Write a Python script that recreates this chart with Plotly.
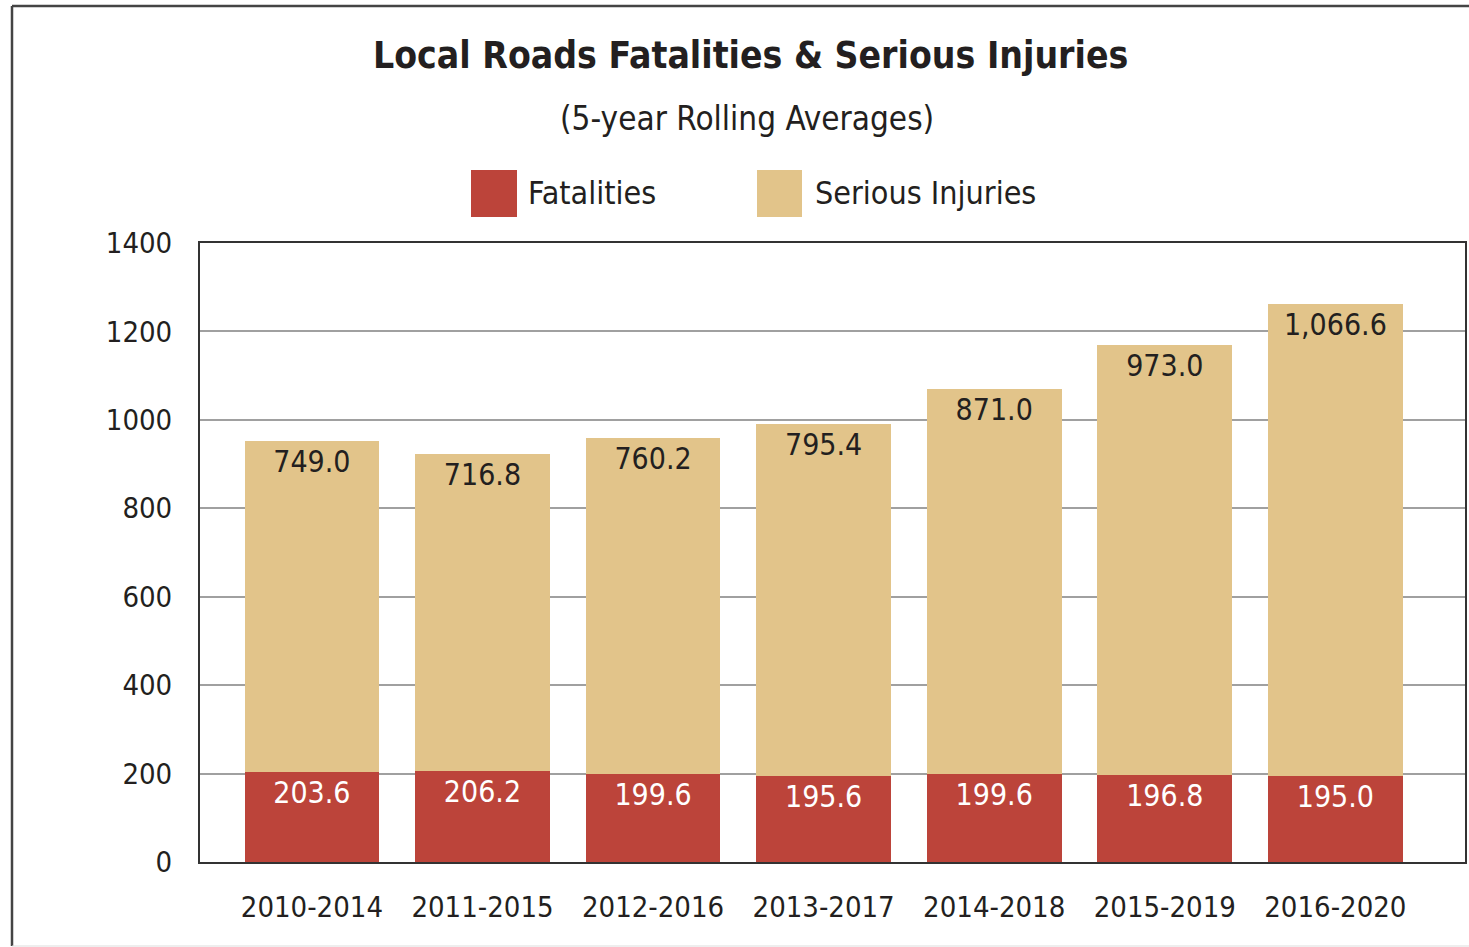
import plotly.graph_objects as go

# ---- data ----
periods = ["2010-2014", "2011-2015", "2012-2016", "2013-2017", "2014-2018", "2015-2019", "2016-2020"]
fatalities = [203.6, 206.2, 199.6, 195.6, 199.6, 196.8, 195.0]
serious_injuries = [749.0, 716.8, 760.2, 795.4, 871.0, 973.0, 1066.6]
y_ticks = [0, 200, 400, 600, 800, 1000, 1200, 1400]

RED = "#BC443A"
TAN = "#E2C48A"
INK = "#231F20"
FONT = "DejaVu Sans Condensed, DejaVu Sans, sans-serif"

W, H = 1469, 947
L, R, T, B = 200, 4, 243, 85
PW, PH = W - L - R, H - T - B


def px(x):
    return (x - L) / PW


def py(y):
    return (H - B - y) / PH


fig = go.Figure()
fig.add_trace(go.Bar(
    x=periods, y=fatalities, name="Fatalities", marker=dict(color=RED, line=dict(width=0)),
    width=0.79, text=[f"{v:,.1f}" for v in fatalities], textposition="inside",
    insidetextanchor="end", textangle=0, constraintext="none",
    insidetextfont=dict(family=FONT, size=30, color="white"), showlegend=False,
))
fig.add_trace(go.Bar(
    x=periods, y=serious_injuries, name="Serious Injuries", marker=dict(color=TAN, line=dict(width=0)),
    width=0.79, text=[f"{v:,.1f}" for v in serious_injuries], textposition="inside",
    insidetextanchor="end", textangle=0, constraintext="none",
    insidetextfont=dict(family=FONT, size=30, color=INK), showlegend=False,
))

shapes = [
    # outer frame
    dict(type="line", xref="paper", yref="paper", x0=px(12), x1=px(12), y0=py(6), y1=py(946),
         line=dict(color="#444", width=2.5)),
    dict(type="line", xref="paper", yref="paper", x0=px(12), x1=px(1475), y0=py(6), y1=py(6),
         line=dict(color="#444", width=2.5)),
    dict(type="line", xref="paper", yref="paper", x0=px(12), x1=px(1475), y0=py(946), y1=py(946),
         line=dict(color="#ddd", width=1)),
    # legend swatches
    dict(type="rect", xref="paper", yref="paper", x0=px(471), x1=px(517), y0=py(217), y1=py(170),
         fillcolor=RED, line=dict(width=0)),
    dict(type="rect", xref="paper", yref="paper", x0=px(757), x1=px(802), y0=py(217), y1=py(170),
         fillcolor=TAN, line=dict(width=0)),
]

annotations = [
    dict(text="<b>Local Roads Fatalities & Serious Injuries</b>", xref="paper", yref="paper",
         x=px(750), y=py(55), xanchor="center", yanchor="middle", showarrow=False,
         font=dict(family=FONT, size=37, color=INK)),
    dict(text="(5-year Rolling Averages)", xref="paper", yref="paper",
         x=px(747), y=py(118), xanchor="center", yanchor="middle", showarrow=False,
         font=dict(family=FONT, size=33, color=INK)),
    dict(text="Fatalities", xref="paper", yref="paper", x=px(526), y=py(193),
         xanchor="left", yanchor="middle", showarrow=False,
         font=dict(family=FONT, size=32, color=INK)),
    dict(text="Serious Injuries", xref="paper", yref="paper", x=px(813), y=py(193),
         xanchor="left", yanchor="middle", showarrow=False,
         font=dict(family=FONT, size=32, color=INK)),
]

fig.update_layout(
    width=W, height=H, autosize=False,
    margin=dict(l=L, r=R, t=T, b=B, pad=0),
    barmode="stack", bargap=0.2,
    paper_bgcolor="white", plot_bgcolor="white",
    font=dict(family=FONT, color=INK),
    shapes=shapes, annotations=annotations,
    showlegend=False,
)
fig.update_xaxes(
    type="category", range=[-0.656, 6.76], showgrid=False, automargin=False,
    showline=True, mirror=True, linecolor="#333", linewidth=2, tickangle=0,
    ticks="", tickfont=dict(family=FONT, size=29, color=INK), ticklabelstandoff=18,
)
fig.update_yaxes(
    range=[0, 1400], tickvals=y_ticks, showgrid=True, gridcolor="#a0a0a0", gridwidth=1.5,
    zeroline=False, showline=True, mirror=True, linecolor="#333", linewidth=2, automargin=False,
    ticks="", tickfont=dict(family=FONT, size=29, color=INK), ticklabelstandoff=20,
)

post = (
    "document.body.style.margin='0';document.body.style.overflow='hidden';"
    "var s=document.createElement('style');"
    "s.textContent='svg text{font-stretch:condensed !important;}';"
    "document.head.appendChild(s);"
)
fig.write_html("out.html", post_script=post, config={"displayModeBar": False})
